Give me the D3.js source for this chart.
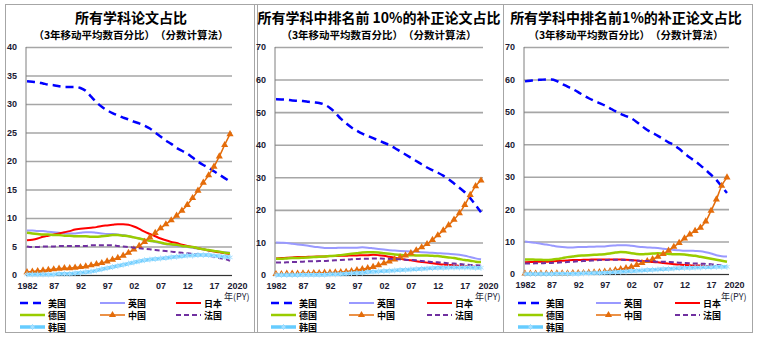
<!DOCTYPE html>
<html>
<head>
<meta charset="utf-8">
<script src="https://cdn.jsdelivr.net/npm/d3@7"></script>
<style>
  body { margin: 0; background: #fff; }
  svg { display: block; }
</style>
</head>
<body>
<div id="chart"></div>
<script>
// years of the 3-year moving average (PY)
var years = [1982,1983,1984,1985,1986,1987,1988,1989,1990,1991,1992,1993,1994,1995,1996,1997,1998,1999,2000,
             2001,2002,2003,2004,2005,2006,2007,2008,2009,2010,2011,2012,2013,2014,2015,2016,2017,2018,2019,2020];
var tickYears = [1982,1987,1992,1997,2002,2007,2012,2017,2020];
var tickLabels = ["1982","87","92","97","02","07","12","17","2020"];

var countries = ["美国","英国","日本","德国","中国","法国","韩国"];

// panel 1: all papers
var us1 = [34.0,33.9,33.8,33.6,33.4,33.3,33.1,33.0,33.0,33.0,32.8,32.3,31.3,30.3,29.5,28.9,28.4,28.0,27.6,27.3,26.9,26.6,26.2,25.7,25.0,24.3,23.6,23.0,22.3,21.8,21.3,20.6,19.9,19.3,18.8,18.2,17.6,17.0,16.4];
var uk1 = [7.8,7.8,7.7,7.7,7.6,7.5,7.4,7.3,7.3,7.3,7.4,7.5,7.5,7.4,7.3,7.2,7.2,7.1,7.0,6.8,6.6,6.4,6.2,6.0,5.8,5.6,5.4,5.3,5.1,5.0,4.9,4.8,4.6,4.5,4.3,4.2,4.1,4.0,3.9];
var jp1 = [6.1,6.2,6.4,6.7,6.9,7.1,7.3,7.5,7.7,8.0,8.1,8.2,8.3,8.4,8.6,8.7,8.8,8.9,8.9,8.8,8.5,8.1,7.6,7.2,6.8,6.4,6.1,5.8,5.6,5.3,5.1,4.9,4.7,4.5,4.3,4.1,4.0,3.8,3.7];
var de1 = [7.4,7.3,7.2,7.1,7.1,7.0,7.0,6.9,6.9,6.8,6.8,6.8,6.7,6.7,6.8,6.9,7.0,7.0,6.9,6.8,6.6,6.4,6.2,6.0,5.9,5.7,5.5,5.4,5.3,5.1,5.0,4.9,4.7,4.5,4.4,4.2,4.1,3.9,3.8];
var cn1 = [0.5,0.6,0.7,0.8,0.9,1.0,1.1,1.2,1.2,1.3,1.4,1.5,1.7,1.9,2.1,2.4,2.7,3.0,3.4,3.9,4.5,5.1,5.8,6.6,7.4,8.2,8.9,9.6,10.4,11.3,12.3,13.5,14.8,16.2,17.5,19.0,20.8,22.8,24.7];
var fr1 = [5.0,4.9,4.9,5.0,5.0,5.0,5.1,5.1,5.1,5.1,5.1,5.1,5.2,5.2,5.2,5.2,5.2,5.1,5.0,4.9,4.8,4.7,4.6,4.5,4.4,4.3,4.2,4.1,4.0,3.9,3.8,3.7,3.6,3.5,3.4,3.2,3.0,2.8,2.5];
var kr1 = [0.1,0.1,0.1,0.1,0.1,0.1,0.2,0.2,0.2,0.3,0.4,0.5,0.6,0.8,1.0,1.2,1.4,1.6,1.8,2.0,2.2,2.4,2.6,2.7,2.8,2.9,3.0,3.1,3.2,3.3,3.4,3.4,3.5,3.5,3.5,3.4,3.3,3.2,3.1];

// panel 2: top 10% papers
var us2 = [54.0,53.9,53.8,53.6,53.5,53.4,53.2,53.0,52.8,52.3,51.3,49.8,48.0,46.6,45.3,44.3,43.4,42.7,42.0,41.3,40.6,39.9,39.0,38.0,37.0,36.0,35.0,34.0,33.0,32.2,31.4,30.5,29.4,28.1,26.8,25.4,23.6,21.5,19.3];
var uk2 = [10.0,9.9,9.8,9.6,9.4,9.2,9.0,8.7,8.5,8.3,8.3,8.3,8.4,8.4,8.4,8.4,8.5,8.4,8.2,8.0,7.8,7.6,7.5,7.4,7.3,7.2,7.1,7.0,6.9,6.8,6.7,6.6,6.5,6.4,6.2,5.9,5.5,5.1,4.8];
var jp2 = [5.1,5.2,5.3,5.4,5.5,5.5,5.6,5.6,5.7,5.7,5.8,5.8,5.9,5.9,6.0,6.0,6.1,6.1,6.2,6.1,5.9,5.6,5.3,5.0,4.7,4.5,4.2,4.0,3.8,3.6,3.4,3.2,3.1,3.0,2.8,2.7,2.6,2.5,2.4];
var de2 = [5.0,5.0,5.1,5.2,5.2,5.3,5.4,5.5,5.6,5.7,5.8,5.9,6.1,6.3,6.5,6.7,6.9,7.0,7.0,6.9,6.7,6.5,6.3,6.2,6.1,6.1,6.0,6.0,6.0,5.9,5.8,5.6,5.4,5.2,4.9,4.6,4.4,4.1,4.0];
var cn2 = [0.3,0.3,0.4,0.4,0.4,0.5,0.5,0.6,0.6,0.7,0.7,0.8,0.9,1.0,1.2,1.5,1.8,2.1,2.5,3.0,3.6,4.2,4.8,5.4,6.0,6.7,7.6,8.5,9.5,10.8,12.2,13.7,15.3,17.0,19.0,21.5,24.6,27.3,29.0];
var fr2 = [3.8,3.8,3.9,4.0,4.0,4.1,4.2,4.2,4.3,4.3,4.4,4.5,4.6,4.7,4.8,4.9,5.0,5.0,5.1,5.1,5.0,5.0,4.9,4.8,4.7,4.6,4.5,4.3,4.2,4.0,3.9,3.8,3.6,3.5,3.4,3.2,3.1,3.0,2.9];
var kr2 = [0.0,0.0,0.0,0.0,0.0,0.1,0.1,0.1,0.1,0.1,0.2,0.2,0.3,0.4,0.5,0.6,0.7,0.9,1.0,1.1,1.2,1.3,1.4,1.5,1.6,1.7,1.8,1.9,2.0,2.1,2.2,2.2,2.3,2.3,2.3,2.3,2.3,2.2,2.2];

// panel 3: top 1% papers
var us3 = [59.4,59.6,59.8,59.9,60.0,60.0,59.5,58.6,57.8,57.0,56.1,55.1,54.2,53.4,52.7,52.0,51.1,50.2,49.4,48.7,48.0,46.9,45.6,44.4,43.5,42.6,41.6,40.6,39.8,38.6,37.2,35.9,34.8,33.5,32.1,30.6,29.0,27.0,25.0];
var uk3 = [10.0,9.8,9.6,9.3,9.1,8.8,8.5,8.3,8.2,8.2,8.3,8.3,8.4,8.4,8.5,8.5,8.7,8.8,8.9,8.9,8.7,8.5,8.3,8.2,8.1,8.0,7.8,7.6,7.4,7.3,7.2,7.2,7.1,7.0,6.7,6.3,5.8,5.5,5.4];
var jp3 = [3.6,3.7,3.7,3.8,3.8,3.9,4.0,4.1,4.2,4.3,4.3,4.4,4.4,4.5,4.5,4.5,4.5,4.5,4.5,4.4,4.3,4.2,4.0,3.9,3.7,3.6,3.4,3.2,3.0,2.9,2.8,2.7,2.6,2.6,2.5,2.5,2.4,2.4,2.3];
var de3 = [4.5,4.5,4.4,4.4,4.3,4.4,4.6,4.9,5.2,5.4,5.6,5.7,5.8,5.9,6.0,6.1,6.3,6.6,6.8,6.7,6.4,6.2,6.1,6.2,6.3,6.4,6.3,6.2,6.1,6.1,6.0,5.8,5.6,5.3,5.0,4.7,4.4,4.1,3.8];
var cn3 = [0.1,0.1,0.1,0.1,0.1,0.2,0.2,0.2,0.2,0.3,0.3,0.3,0.4,0.5,0.6,0.7,0.9,1.2,1.5,1.8,2.2,2.8,3.4,4.0,4.6,5.3,6.2,7.2,8.4,9.6,11.0,12.2,13.3,14.3,16.2,19.5,23.0,27.2,29.8];
var fr3 = [3.2,3.2,3.3,3.3,3.4,3.4,3.5,3.6,3.7,3.8,3.9,4.0,4.1,4.2,4.3,4.3,4.4,4.4,4.4,4.3,4.2,4.1,4.0,4.0,3.9,3.8,3.8,3.7,3.6,3.5,3.4,3.3,3.2,3.2,3.1,3.0,2.8,2.6,2.4];
var kr3 = [0.0,0.0,0.0,0.0,0.0,0.0,0.1,0.1,0.1,0.1,0.1,0.2,0.2,0.3,0.3,0.4,0.5,0.6,0.7,0.8,0.9,1.0,1.1,1.2,1.3,1.4,1.5,1.6,1.7,1.8,1.9,1.9,2.0,2.0,2.1,2.1,2.2,2.2,2.2];

var titles = ["所有学科论文占比", "所有学科中排名前 10%的补正论文占比", "所有学科中排名前1%的补正论文占比"];
var subtitle = "（3年移动平均数百分比）　（分数计算法）";

// line styles, same order as countries
var styles = [
  { color: "#0000ff", width: 2.5, dash: "8,5" },
  { color: "#9999ff", width: 2, dash: null },
  { color: "#ff0000", width: 2, dash: null },
  { color: "#99cc00", width: 2.5, dash: null },
  { color: "#e46c0a", width: 1.5, dash: null, marker: "tri" },
  { color: "#7030a0", width: 2, dash: "5,3" },
  { color: "#66ccff", width: 3.5, dash: null, marker: "star" }
];

var panels = [
  { series: [us1, uk1, jp1, de1, cn1, fr1, kr1], yMax: 40, step: 5,
    box: [5, 4, 257, 332], left: 26, right: 232, top: 47, bottom: 275,
    titleX: 131, legendX: [20, 100, 176] },
  { series: [us2, uk2, jp2, de2, cn2, fr2, kr2], yMax: 70, step: 10,
    box: [254, 4, 503, 332], left: 275, right: 483, top: 47, bottom: 275,
    titleX: 379, legendX: [271, 349, 427] },
  { series: [us3, uk3, jp3, de3, cn3, fr3, kr3], yMax: 70, step: 10,
    box: [503, 4, 752, 332], left: 524, right: 729, top: 47, bottom: 274,
    titleX: 626, legendX: [518, 596, 675] }
];

var cjk = "'Noto Sans CJK SC', sans-serif";
var latin = "'Liberation Sans', Arial, sans-serif";

var svg = d3.select("#chart").append("svg")
    .attr("width", 762)
    .attr("height", 339);

panels.forEach(function(p, pi) {
  var g = svg.append("g");

  g.append("rect")
      .attr("x", p.box[0] + 0.5).attr("y", p.box[1] + 0.5)
      .attr("width", p.box[2] - p.box[0]).attr("height", p.box[3] - p.box[1])
      .attr("fill", "none").attr("stroke", "#a6a6a6").attr("stroke-width", 1);

  var x = d3.scaleLinear().domain([1982, 2020]).range([p.left + 1, p.right - 2]);
  var y = d3.scaleLinear().domain([0, p.yMax]).range([p.bottom, p.top]);

  // titles
  g.append("text")
      .attr("x", p.titleX).attr("y", 22.5)
      .attr("text-anchor", "middle")
      .style("font-family", cjk).style("font-weight", "bold").style("font-size", "14px")
      .text(titles[pi]);
  g.append("text")
      .attr("x", p.titleX).attr("y", 38.5)
      .attr("text-anchor", "middle")
      .style("font-family", cjk).style("font-weight", "bold").style("font-size", "10.5px")
      .text(subtitle);

  // y grid + labels
  var yAxis = g.append("g")
      .attr("transform", "translate(" + p.left + ",0)")
      .call(d3.axisLeft(y)
        .tickValues(d3.range(0, p.yMax + 1, p.step))
        .tickSize(-(p.right - p.left))
        .tickPadding(9));
  yAxis.select(".domain").remove();
  yAxis.selectAll(".tick line")
      .attr("stroke", "#a6a6a6").attr("stroke-width", 1.6);
  yAxis.selectAll(".tick text")
      .attr("fill", "#1a1a33")
      .style("font-family", latin).style("font-weight", "bold").style("font-size", "9px");

  g.append("line")
      .attr("x1", p.left).attr("x2", p.left)
      .attr("y1", p.top).attr("y2", p.bottom)
      .attr("stroke", "#7f7f7f").attr("stroke-width", 1);

  // x axis
  var xAxis = g.append("g")
      .attr("transform", "translate(0," + p.bottom + ")")
      .call(d3.axisBottom(x)
        .tickValues(tickYears)
        .tickFormat(function(d, i) { return tickLabels[i]; })
        .tickSize(0)
        .tickPadding(8));
  xAxis.select(".domain")
      .attr("d", "M" + p.left + ",0.5H" + p.right)
      .attr("stroke", "#333").attr("stroke-width", 1.2);
  xAxis.selectAll(".tick text")
      .attr("fill", "#1a1a33")
      .style("font-family", latin).style("font-weight", "bold").style("font-size", "9px");
  xAxis.selectAll(".tick text").filter(function(d) { return d === 2020; })
      .attr("dx", 7);

  g.append("text")
      .attr("x", p.right - 8).attr("y", 300)
      .attr("fill", "#1a1a33")
      .style("font-family", cjk).style("font-size", "9px")
      .text("年(PY)");

  // series
  var line = d3.line()
      .x(function(d, i) { return x(years[i]); })
      .y(function(d) { return y(d); })
      .curve(d3.curveMonotoneX);

  p.series.forEach(function(values, si) {
    var s = styles[si];
    g.append("path")
        .datum(values)
        .attr("d", line)
        .attr("fill", "none")
        .attr("stroke", s.color)
        .attr("stroke-width", s.width)
        .attr("stroke-dasharray", s.dash)
        .attr("stroke-linejoin", "round");
    if (s.marker === "tri") {
      g.selectAll(null)
          .data(values)
          .enter().append("path")
          .attr("transform", function(d, i) { return "translate(" + x(years[i]) + "," + y(d) + ")"; })
          .attr("d", d3.symbol().type(d3.symbolTriangle).size(22))
          .attr("fill", s.color);
    }
    if (s.marker === "star") {
      g.selectAll(null)
          .data(values)
          .enter().append("path")
          .attr("transform", function(d, i) { return "translate(" + x(years[i]) + "," + y(d) + ")"; })
          .attr("d", d3.symbol().type(d3.symbolAsterisk).size(24))
          .attr("fill", "none")
          .attr("stroke", "#a8e0ff")
          .attr("stroke-width", 1);
    }
  });

  // legend
  var rowsY = [303, 315, 327];
  countries.forEach(function(name, si) {
    var s = styles[si];
    var lx = p.legendX[si % 3], ly = rowsY[Math.floor(si / 3)];
    g.append("line")
        .attr("x1", lx).attr("x2", lx + 25)
        .attr("y1", ly).attr("y2", ly)
        .attr("stroke", s.color)
        .attr("stroke-width", s.width)
        .attr("stroke-dasharray", s.dash);
    if (s.marker === "tri") {
      g.append("path")
          .attr("transform", "translate(" + (lx + 12.5) + "," + ly + ")")
          .attr("d", d3.symbol().type(d3.symbolTriangle).size(22))
          .attr("fill", s.color);
    }
    if (s.marker === "star") {
      g.append("path")
          .attr("transform", "translate(" + (lx + 12.5) + "," + ly + ")")
          .attr("d", d3.symbol().type(d3.symbolAsterisk).size(24))
          .attr("fill", "none").attr("stroke", "#a8e0ff");
    }
    g.append("text")
        .attr("x", lx + 28).attr("y", ly + 3.5)
        .style("font-family", cjk).style("font-weight", "bold").style("font-size", "9px")
        .text(name);
  });
});
</script>
</body>
</html>
